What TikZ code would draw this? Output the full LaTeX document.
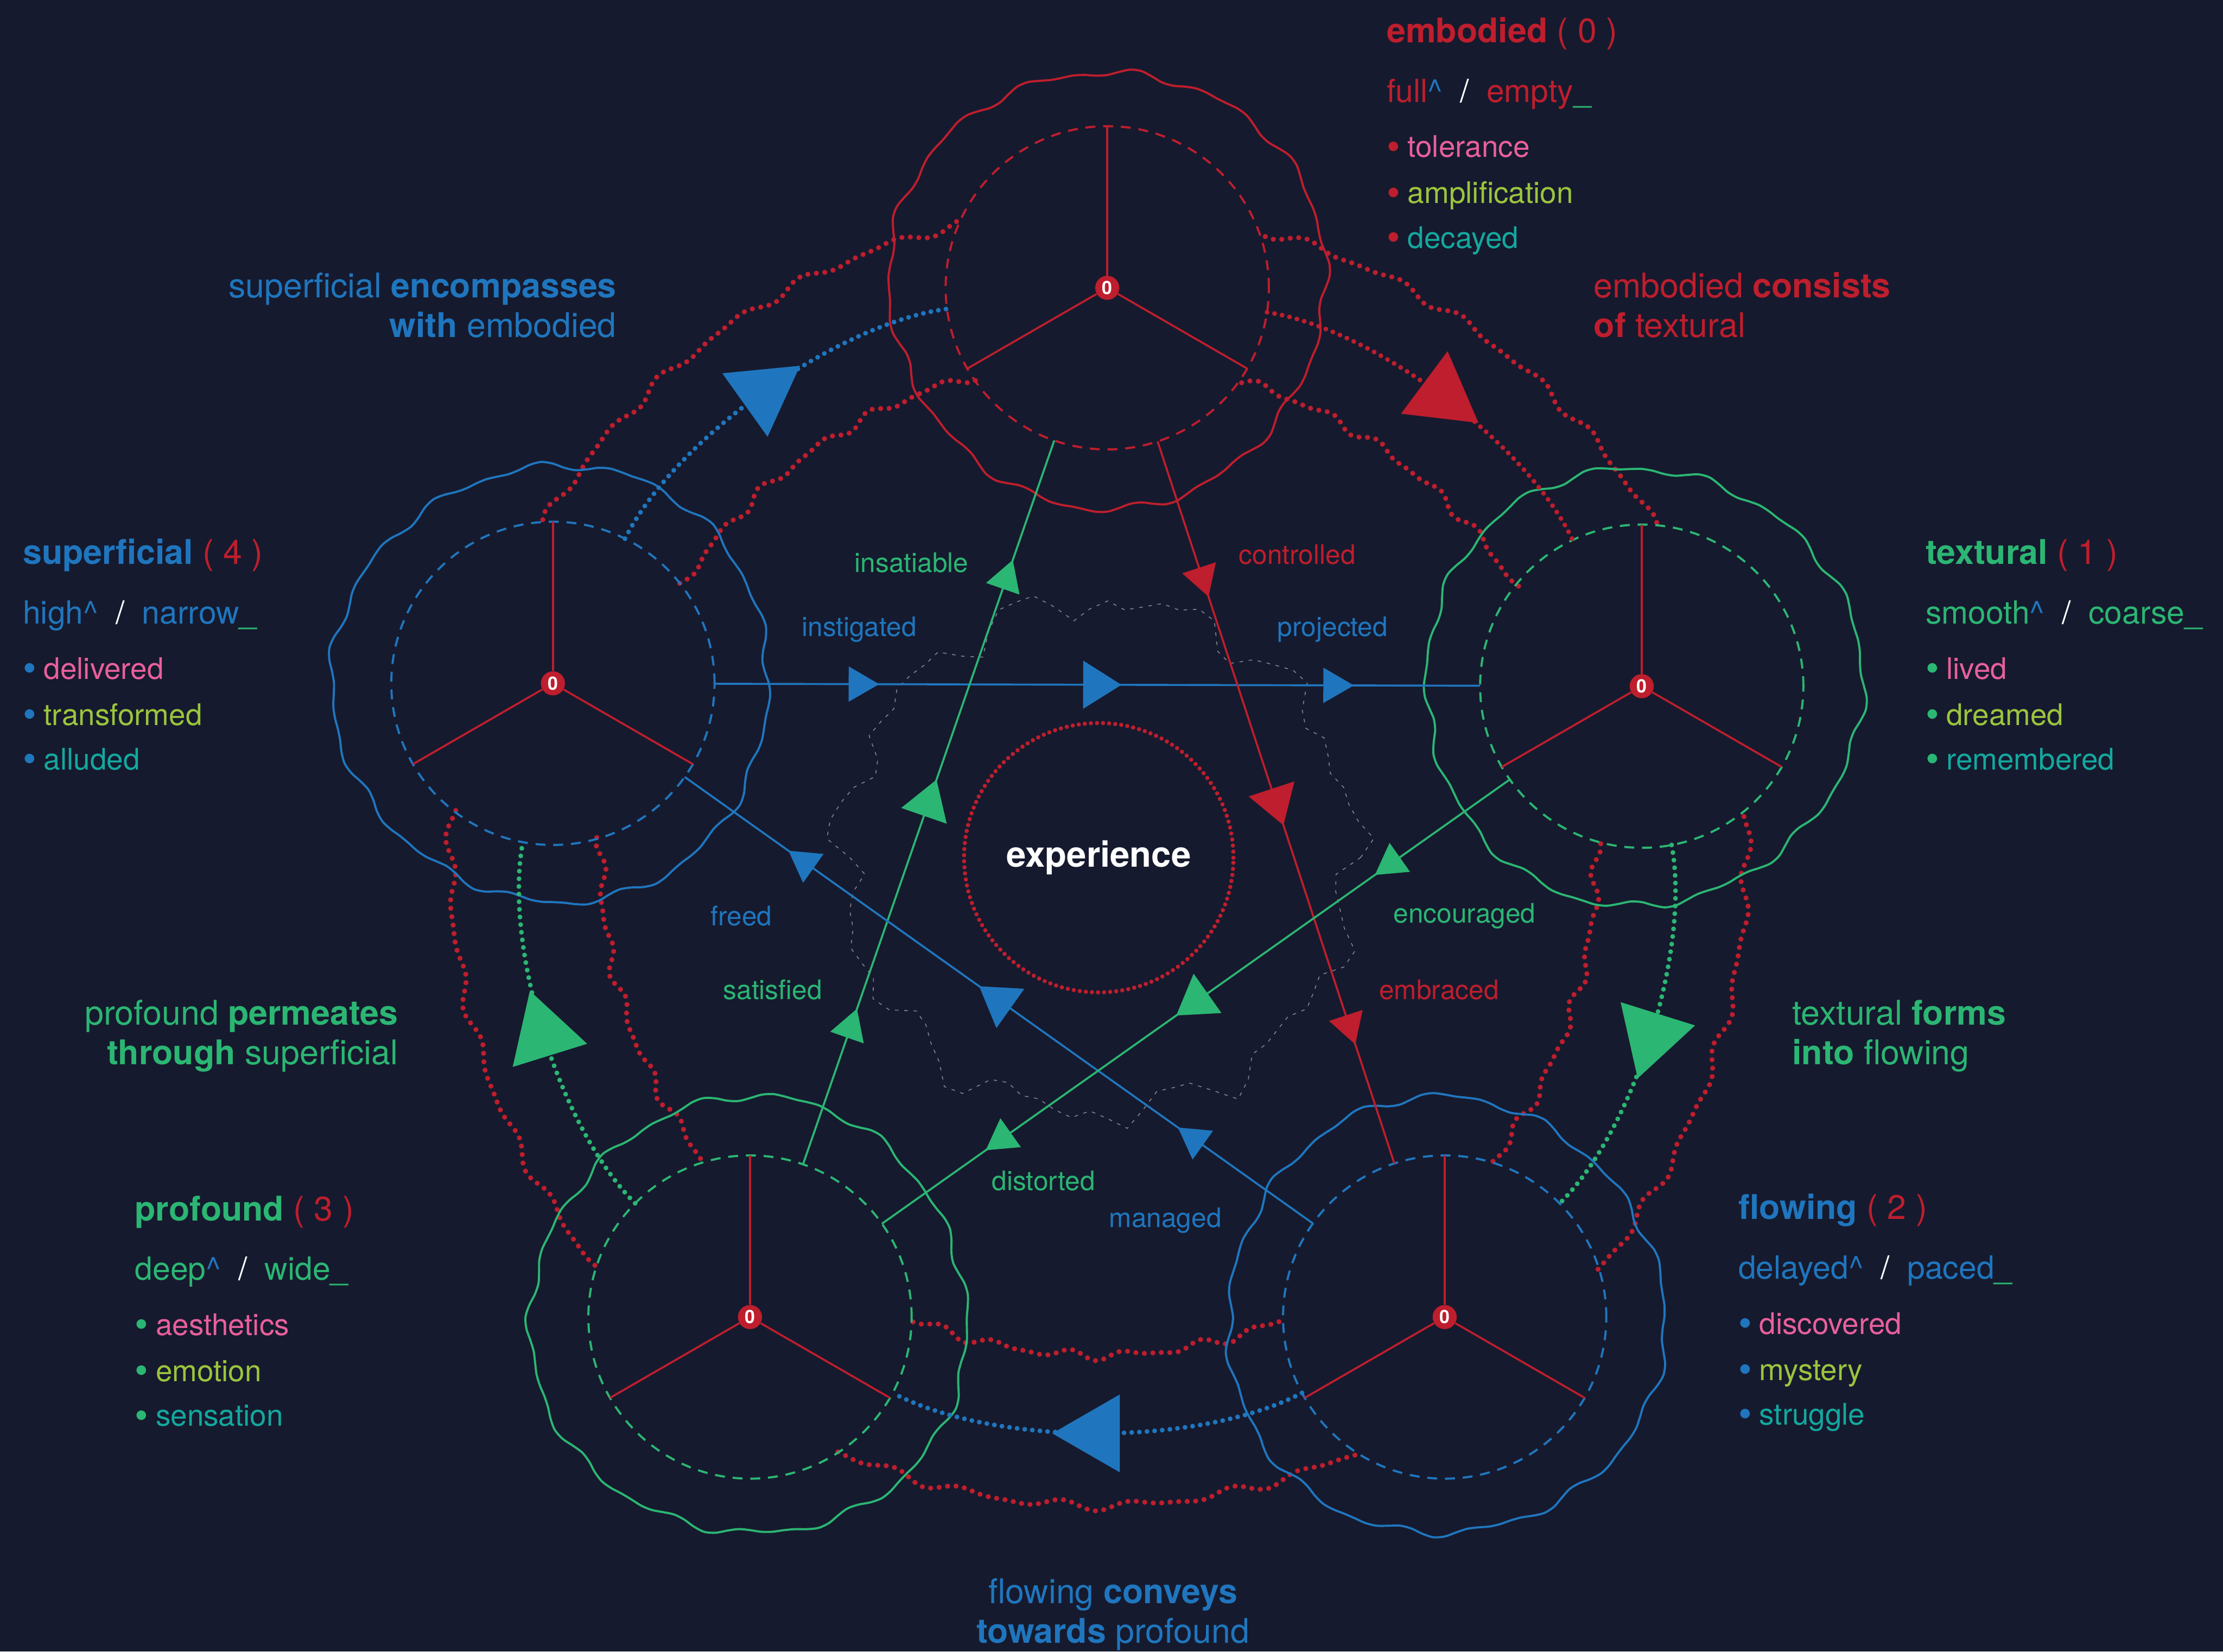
\documentclass[tikz,border=0pt]{standalone}
\usepackage{fontspec}
\setmainfont{TeX Gyre Heros}
\usetikzlibrary{decorations.markings, shapes.geometric, calc}

\definecolor{cbg}{HTML}{161A2E}
\definecolor{cred}{HTML}{BE1E2D}
\definecolor{cblue}{HTML}{1F76BE}
\definecolor{cgreen}{HTML}{2BB673}
\definecolor{cpink}{HTML}{E8609C}
\definecolor{clime}{HTML}{9BC53D}
\definecolor{cteal}{HTML}{14A89E}
\definecolor{chaze}{HTML}{C8CCD6}

\tikzset{
  ring/.style={circle, minimum size=228pt, inner sep=0pt, outer sep=0pt,
    line width=1.5pt, dash pattern=on 7pt off 5.5pt},
  rim/.style={line width=1.5pt, line join=round},
  zero/.style={circle, fill=cred, minimum size=17pt, inner sep=0pt, text=white,
    font=\bfseries\fontsize{13}{13}\selectfont},
  spoke/.style={draw=cred, line width=1.4pt},
  chord/.style={draw=#1, line width=1.4pt, postaction={decorate, decoration={markings,
      mark=at position 0.19 with {\fill[#1] (13.5,0) -- (-8,12.5) -- (-8,-12.5) -- cycle;},
      mark=at position 0.5 with {\fill[#1] (17,0) -- (-10,17) -- (-10,-17) -- cycle;},
      mark=at position 0.81 with {\fill[#1] (13.5,0) -- (-8,12.5) -- (-8,-12.5) -- cycle;}}}},
  arclink/.style={draw=#1, line width=3.4pt, dash pattern=on 0pt off 5.4pt, line cap=round,
    postaction={decorate, decoration={markings,
      mark=at position 0.5 with {\fill[#1] (31.8,0) -- (-15.9,27.5) -- (-15.9,-27.5) -- cycle;}}}},
  outward/.style={bend left=28, looseness=0.72},
  flank/.style={draw=cred, line width=3.6pt, dash pattern=on 0pt off 6pt, line cap=round},
  halo/.style={draw=chaze, line width=0.6pt, dash pattern=on 2.5pt off 4pt, opacity=0.6},
  core/.style={circle, minimum size=190pt, inner sep=0pt, draw=cred, line width=3pt,
    dash pattern=on 0pt off 4.3pt, line cap=round, text=white,
    font=\bfseries\fontsize{25}{30}\selectfont},
  blocktitle/.style={anchor=base west, inner sep=0pt, font=\fontsize{24}{28}\selectfont},
  blocksub/.style={anchor=base west, inner sep=0pt, font=\fontsize{22.5}{26}\selectfont},
  blockitem/.style={anchor=base west, inner sep=0pt, font=\fontsize{21}{25}\selectfont},
  chordlabel/.style={inner sep=0pt, font=\fontsize{19}{22}\selectfont},
  relation/.style={inner sep=0pt, font=\fontsize{24}{28}\selectfont},
}

% a station: rippled rim, dashed ring, red hub with three spokes
\newcommand{\station}[5]{% #1 name, #2 x, #3 y, #4 colour, #5 ripple phase
  \draw[rim, draw=#4] plot[smooth cycle, domain=0:357, samples=120, variable=\t]
    ({#2+(154+2.4*sin(3*\t+#5)+1.9*sin(14*\t+2*#5)+1.5*sin(23*\t+3*#5))*cos(\t)},
     {#3-(154+2.4*sin(3*\t+#5)+1.9*sin(14*\t+2*#5)+1.5*sin(23*\t+3*#5))*sin(\t)});
  \node[ring, draw=#4] (#1) at (#2,#3) {};
  \node[zero] (#1-0) at (#2,#3) {0};
  \foreach \a in {90,210,330} \draw[spoke] (#1-0) -- (#1.\a);
}

% wavy red companion track around the hub, radius #1, between angles #2 and #3
\newcommand{\flankline}[3]{%
  \draw[flank] plot[smooth, domain=#2:#3, samples=60, variable=\t]
    ({775+(#1+2.4*sin(47*\t)+1.5*sin(71*\t+30))*cos(\t)},
     {605-(#1+2.4*sin(47*\t)+1.5*sin(71*\t+30))*sin(\t)});
}

\newcommand{\dotmark}[1]{\raisebox{-1.6pt}{\textcolor{#1}{{\fontsize{27}{25}\selectfont\textbullet}}}}

\newcommand{\infohead}[8]{% name, x, y, colour, title, number, high, low
  \node[blocktitle, text=#4] (#1-title) at (#2,#3) {\textbf{#5} \textcolor{cred}{( #6 )}};
  \node[blocksub, text=#4] (#1-poles) at ({#2},{#3+42}) {#7\textcolor{cblue}{\textasciicircum}\hspace{0.55em}\textcolor{white}{/}\hspace{0.55em}#8\textcolor{cgreen}{\_}};
}
\newcommand{\infoitems}[7]{% name, x, y, colour, three items
  \node[blockitem] (#1-a) at ({#2},{#3+81}) {\dotmark{#4}\hspace{0.25em}\textcolor{cpink}{#5}};
  \node[blockitem] (#1-b) at ({#2},{#3+113.5}) {\dotmark{#4}\hspace{0.25em}\textcolor{clime}{#6}};
  \node[blockitem] (#1-c) at ({#2},{#3+145}) {\dotmark{#4}\hspace{0.25em}\textcolor{cteal}{#7}};
}

\begin{document}
\begin{tikzpicture}[x=1pt, y=-1pt]
  \path[use as bounding box] (0,0) rectangle (1568,1165);
  \fill[cbg] (0,0) rectangle (1568,1165);

  % faint ragged loop around the core
  \draw[halo] plot[domain=0:356, samples=90, variable=\t]
    ({775+(180+8*sin(11*\t)+6*sin(17*\t+40)+4*sin(29*\t+10))*cos(\t)},
     {605-(180+8*sin(11*\t)+6*sin(17*\t+40)+4*sin(29*\t+10))*sin(\t)}) -- cycle;

  % red companion tracks of the outer links
  \flankline{351}{104.5}{146.9} \flankline{457}{102.6}{148.8}
  \flankline{351}{32.9}{73.7}   \flankline{457}{31.0}{75.6}
  \flankline{351}{-37.6}{2.1}   \flankline{457}{-39.5}{4.0}
  \flankline{351}{-111.8}{-68.4} \flankline{457}{-113.7}{-66.5}
  \flankline{351}{177.7}{217.4} \flankline{457}{175.8}{219.3}

  % stations
  \station{E}{781}{203}{cred}{0}
  \station{T}{1158}{484}{cgreen}{70}
  \station{F}{1019}{929}{cblue}{140}
  \station{P}{529}{929}{cgreen}{210}
  \station{S}{390}{482}{cblue}{280}

  % inner links
  \draw[chord=cblue] (S) -- (T);
  \draw[chord=cgreen] (P) -- (E);
  \draw[chord=cred] (E) -- (F);
  \draw[chord=cblue] (F) -- (S);
  \draw[chord=cgreen] (T) -- (P);

  % outer links
  \draw[arclink=cblue] (S) to[outward] (E);
  \draw[arclink=cred] (E) to[outward] (T);
  \draw[arclink=cgreen] (T) to[outward] (F);
  \draw[arclink=cblue] (F) to[outward] (P);
  \draw[arclink=cgreen] (P) to[outward] (S);

  % core
  \node[core] (X) at (775,605) {experience};

  % inner link labels
  \node[chordlabel, text=cblue] (l-instigated) at (606,444) {instigated};
  \node[chordlabel, text=cblue] (l-projected) at (940,444) {projected};
  \node[chordlabel, text=cgreen] (l-insatiable) at (643,397) {insatiable};
  \node[chordlabel, text=cgreen] (l-satisfied) at (545,698) {satisfied};
  \node[chordlabel, text=cred] (l-controlled) at (915,391) {controlled};
  \node[chordlabel, text=cred] (l-embraced) at (1015,698) {embraced};
  \node[chordlabel, text=cblue] (l-freed) at (523,646) {freed};
  \node[chordlabel, text=cblue] (l-managed) at (822,861) {managed};
  \node[chordlabel, text=cgreen] (l-encouraged) at (1033,646) {encouraged};
  \node[chordlabel, text=cgreen] (l-distorted) at (736,833) {distorted};

  % outer link labels
  \node[relation, anchor=base east, text=cblue] (r-se-a) at (435,210) {superficial \textbf{encompasses}};
  \node[relation, anchor=base east, text=cblue] (r-se-b) at (435,238) {\textbf{with} embodied};
  \node[relation, anchor=base west, text=cred] (r-et-a) at (1124,210) {embodied \textbf{consists}};
  \node[relation, anchor=base west, text=cred] (r-et-b) at (1124,238) {\textbf{of} textural};
  \node[relation, anchor=base west, text=cgreen] (r-tf-a) at (1264,723) {textural \textbf{forms}};
  \node[relation, anchor=base west, text=cgreen] (r-tf-b) at (1264,751) {\textbf{into} flowing};
  \node[relation, anchor=base, text=cblue] (r-fp-a) at (785,1131) {flowing \textbf{conveys}};
  \node[relation, anchor=base, text=cblue] (r-fp-b) at (785,1159) {\textbf{towards} profound};
  \node[relation, anchor=base east, text=cgreen] (r-ps-a) at (281,723) {profound \textbf{permeates}};
  \node[relation, anchor=base east, text=cgreen] (r-ps-b) at (281,751) {\textbf{through} superficial};

  % station descriptions
  \infohead{iE}{978}{30}{cred}{embodied}{0}{full}{empty}
  \infoitems{iE}{978}{30}{cred}{tolerance}{amplification}{decayed}
  \infohead{iT}{1358}{398}{cgreen}{textural}{1}{smooth}{coarse}
  \infoitems{iT}{1358}{398}{cgreen}{lived}{dreamed}{remembered}
  \infohead{iF}{1226}{860}{cblue}{flowing}{2}{delayed}{paced}
  \infoitems{iF}{1226}{860}{cblue}{discovered}{mystery}{struggle}
  \infohead{iP}{95}{861}{cgreen}{profound}{3}{deep}{wide}
  \infoitems{iP}{95}{861}{cgreen}{aesthetics}{emotion}{sensation}
  \infohead{iS}{16}{398}{cblue}{superficial}{4}{high}{narrow}
  \infoitems{iS}{16}{398}{cblue}{delivered}{transformed}{alluded}
\end{tikzpicture}
\end{document}
